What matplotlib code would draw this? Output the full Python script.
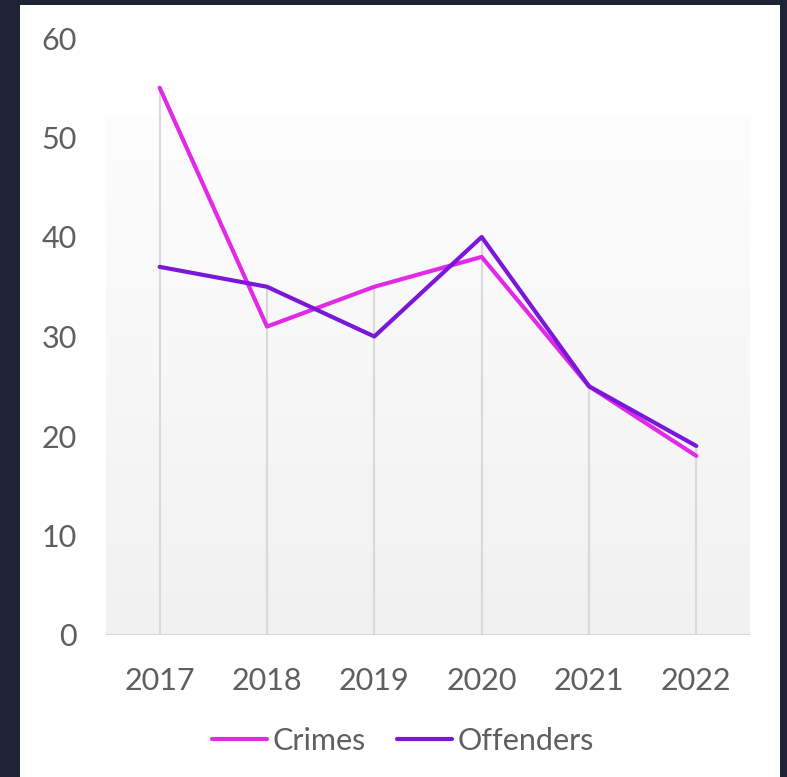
import numpy as np
import matplotlib.pyplot as plt
from matplotlib.patches import Rectangle
from matplotlib.colors import LinearSegmentedColormap

years = ["2017", "2018", "2019", "2020", "2021", "2022"]
crimes = [55, 31, 35, 38, 25, 18]
offenders = [37, 35, 30, 40, 25, 19]

W, H = 787, 777
plt.rcParams['font.family'] = ['Lato', 'DejaVu Sans']

fig = plt.figure(figsize=(W / 100, H / 100), dpi=100, facecolor="#1e2433")
# white card behind the chart
fig.patches.append(Rectangle((20 / W, 0), 760 / W, (H - 5) / H, transform=fig.transFigure,
                             facecolor="white", edgecolor="none", zorder=-10))

ax = fig.add_axes([106 / W, (H - 635) / H, 644 / W, 597 / H])
ax.set_facecolor("none")
x = np.arange(len(years))

# gradient plot background
grad = np.linspace(0, 1, 256).reshape(-1, 1)
ax.imshow(grad, extent=[-0.5, 5.5, 0, 52], aspect="auto", origin="lower",
          cmap=LinearSegmentedColormap.from_list("g", ["#f1f1f1", "#fdfdfd"]), zorder=0)

tops = np.maximum(crimes, offenders)
ax.vlines(x, 0, tops, color="#d9d9d9", lw=1.5, zorder=1)
ax.axhline(0, color="#d4d4d4", lw=2, zorder=1)

ax.plot(x, crimes, color="#e22ae6", lw=3, label="Crimes", zorder=3, solid_capstyle="round")
ax.plot(x, offenders, color="#7b17d8", lw=3, label="Offenders", zorder=4, solid_capstyle="round")

ax.set_xlim(-0.5, 5.5)
ax.set_ylim(0, 60)
ax.set_yticks(range(0, 61, 10))
ax.set_xticks(x, years)
for s in ax.spines.values():
    s.set_visible(False)
ax.tick_params(axis="both", length=0, labelsize=22, labelcolor="#5f5f5f")
ax.tick_params(axis="y", pad=21)
ax.tick_params(axis="x", pad=23)

fig.legend(loc="center", bbox_to_anchor=(403 / W, 1 - 741 / H), ncol=2, frameon=False,
           fontsize=22, labelcolor="#5f5f5f", handlelength=1.8, handletextpad=0.2,
           columnspacing=1.0)

fig.savefig("out.png", dpi=100, facecolor=fig.get_facecolor())
